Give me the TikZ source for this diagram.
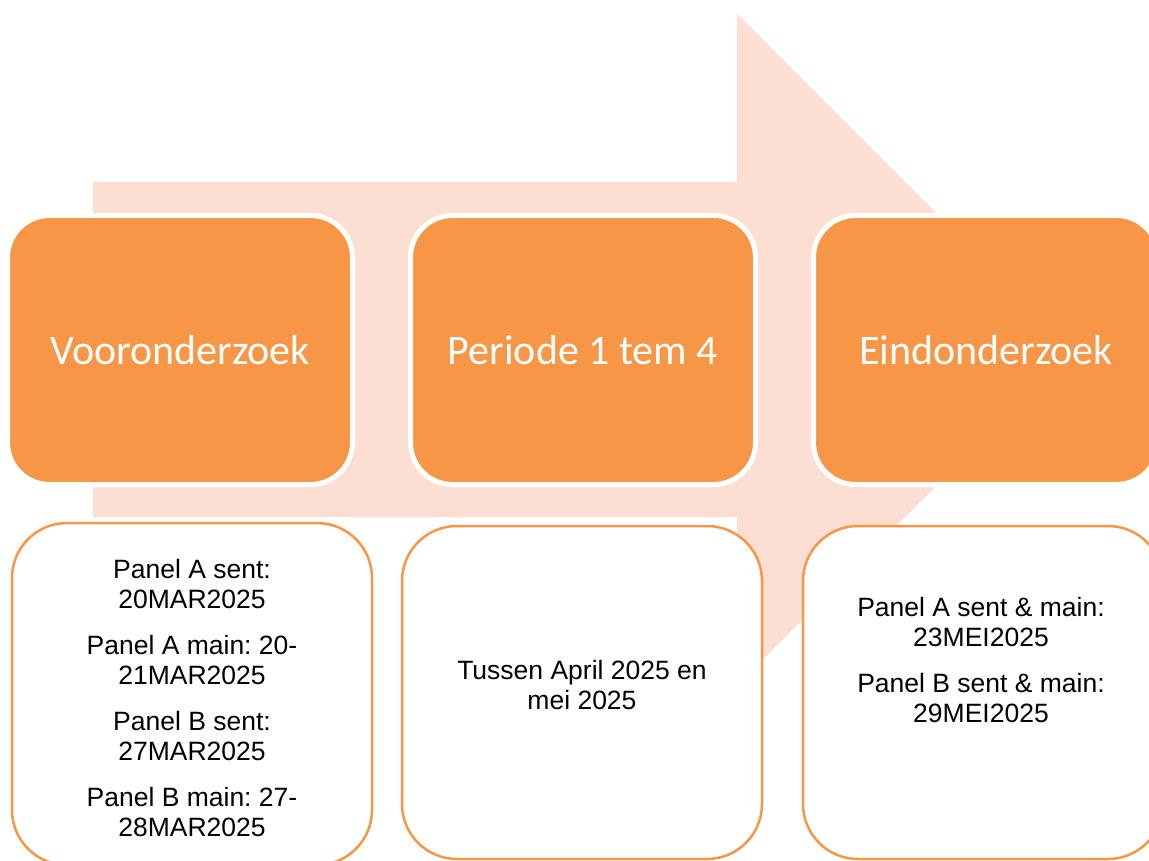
\documentclass[tikz,border=0pt]{standalone}
\usepackage{fontspec}
\setmainfont{Liberation Sans}
\newfontfamily\phasefont{Carlito}
\usepackage{tikz}
\usetikzlibrary{positioning}
\definecolor{accent}{HTML}{F79646}
\definecolor{peach}{HTML}{FCDED3}
\frenchspacing
\tikzstyle{phase} = [rectangle, rounded corners=42pt, fill=accent, draw=white, line width=5pt,
  minimum width=345pt, minimum height=269pt, inner sep=0pt,
  text=white, font=\phasefont\fontsize{42}{48}\selectfont]
\tikzstyle{detail} = [rectangle, rounded corners=55pt, fill=white, draw=accent, line width=2.5pt,
  minimum width=360pt, inner sep=0pt]
\tikzstyle{note} = [align=center, inner sep=0pt, font=\fontsize{26.5}{30}\selectfont]

\begin{document}
\begin{tikzpicture}[x=1pt, y=-1pt]
        \useasboundingbox (0,0) rectangle (1149,861);
        \clip (0,0) rectangle (1149,861);
        % background arrow
        \fill[peach] (93,182) -- (737,182) -- (737,14) -- (1072.5,349.5)
          -- (737,685) -- (737,517) -- (93,517) -- cycle;
        % phases
        \node[phase] (voor) at (180,350) {Vooronderzoek};
        \node[phase, right of=voor, node distance=403pt] (periode) {Periode 1 tem 4};
        \node[phase, right of=periode, node distance=403pt] (eind) {Eindonderzoek};
        % details
        \node[detail, minimum height=342pt] (voorbox) at (192,694) {};
        \node[detail, minimum height=333pt] (periodebox) at (582,692.5) {};
        \node[detail, minimum height=333pt] (eindbox) at (983,692.5) {};
        \node[note] (voortxt) at (192,698) {Panel A sent:\\20MAR2025\\[16pt]Panel A main: 20-\\21MAR2025\\[16pt]Panel B sent:\\27MAR2025\\[16pt]Panel B main: 27-\\28MAR2025};
        \node[note] (periodetxt) at (582,685) {Tussen April 2025 en\\mei 2025};
        \node[note] (eindtxt) at (981,660) {Panel A sent \& main:\\23MEI2025\\[16pt]Panel B sent \& main:\\29MEI2025};
    \end{tikzpicture}
\end{document}
